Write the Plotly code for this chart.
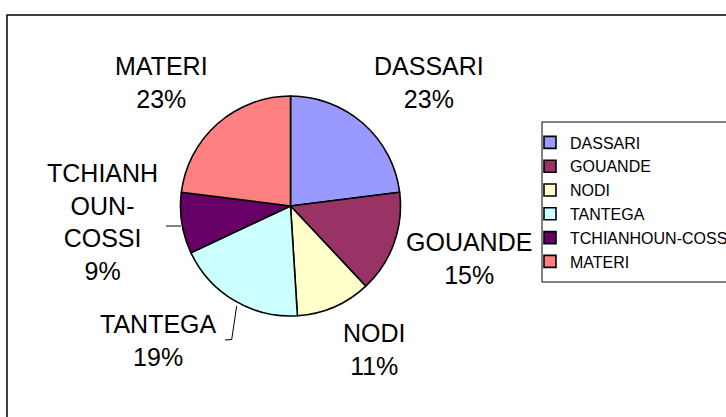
import plotly.graph_objects as go

# ---- data ----
LABELS = ["DASSARI", "GOUANDE", "NODI", "TANTEGA", "TCHIANHOUN-COSSI", "MATERI"]
DISPLAY_LABELS = ["DASSARI", "GOUANDE", "NODI", "TANTEGA", "TCHIANH<br>OUN-<br>COSSI", "MATERI"]
VALUES = [23, 15, 11, 19, 9, 23]
COLORS = ["#9999FF", "#993366", "#FFFFCC", "#CCFFFF", "#660066", "#FF8080"]

# ---- layout helpers ----
W, H = 726, 417
FONT = "Liberation Sans, Arial, sans-serif"

def px(x):
    return x / W

def py(y):
    return 1 - y / H

# label block centres (pixels)
LABEL_POS = [(429, 82), (469, 258), (375, 349), (158, 340), (103, 222), (161, 82)]

cx, cy, r = 290.5, 206, 110

fig = go.Figure(go.Pie(
    labels=LABELS,
    values=VALUES,
    sort=False,
    direction="clockwise",
    rotation=0,
    marker=dict(colors=COLORS, line=dict(color="black", width=1.6)),
    textinfo="none",
    hoverinfo="label+percent",
    domain=dict(x=[px(cx - r), px(cx + r)], y=[py(cy + r), py(cy - r)]),
))

total = sum(VALUES)
annotations = []
for name, v, (lx, ly) in zip(DISPLAY_LABELS, VALUES, LABEL_POS):
    pct = round(100 * v / total)
    annotations.append(dict(
        text=f"{name}<br>{pct}%",
        x=px(lx), y=py(ly), xref="paper", yref="paper",
        xanchor="center", yanchor="middle", showarrow=False,
        font=dict(family=FONT, size=25, color="black"),
    ))

shapes = [
    # outer chart border
    dict(type="rect", xref="paper", yref="paper",
         x0=px(7), y0=py(430), x1=px(740), y1=py(15),
         line=dict(color="black", width=1.5), fillcolor="rgba(0,0,0,0)"),
    # legend frame
    dict(type="rect", xref="paper", yref="paper",
         x0=px(542), y0=py(282), x1=px(740), y1=py(122),
         line=dict(color="black", width=1), fillcolor="white", layer="below"),
    # leader line TANTEGA
    dict(type="path", xref="paper", yref="paper",
         path=f"M {px(236.7)} {py(306)} L {px(231.7)} {py(339.5)} L {px(225)} {py(340)}",
         line=dict(color="black", width=1)),
    # leader line TCHIANHOUN-COSSI
    dict(type="line", xref="paper", yref="paper",
         x0=px(166), y0=py(226), x1=px(181), y1=py(226),
         line=dict(color="black", width=1)),
]

fig.update_layout(
    width=W, height=H,
    margin=dict(l=0, r=0, t=0, b=0, autoexpand=False),
    paper_bgcolor="white",
    plot_bgcolor="white",
    font=dict(family=FONT, color="black"),
    showlegend=True,
    legend=dict(
        x=px(530), y=py(202), xanchor="left", yanchor="middle",
        borderwidth=0,
        font=dict(family=FONT, size=16, color="black"),
        bgcolor="rgba(0,0,0,0)",
    ),
    annotations=annotations,
    shapes=shapes,
)

fig.write_html(
    "out.html",
    config={"displayModeBar": False},
    post_script="document.body.style.margin='0';document.body.style.overflow='hidden';",
)
